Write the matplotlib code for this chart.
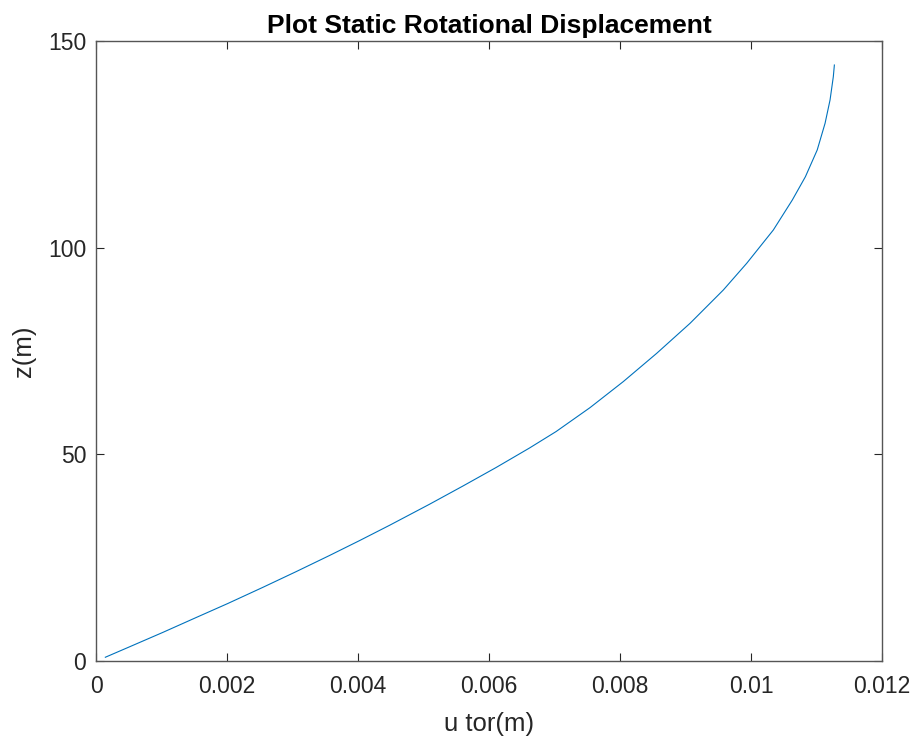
import matplotlib

matplotlib.use("Agg")
import matplotlib.pyplot as plt

# values
u_tor = [0.000142, 0.000508, 0.001018, 0.001527, 0.002011, 0.002545, 0.003053,
         0.003562, 0.00402, 0.004478, 0.005089, 0.005598, 0.006107, 0.006615,
         0.007023, 0.007542, 0.00805, 0.00856, 0.009069, 0.009577, 0.009934,
         0.01034, 0.01063, 0.01083, 0.01101, 0.01113, 0.011206, 0.011256,
         0.011272]
z = [0.9, 3.4, 6.9, 10.5, 13.9, 17.8, 21.6, 25.5, 29.1, 32.8,
     37.9, 42.3, 46.8, 51.5, 55.5, 61.3, 67.6, 74.44, 81.70, 89.76,
     96.22, 104.27, 111.53, 117.17, 123.63, 130.09, 135.73, 141.37, 144.19]

x_ticks = [0, 0.002, 0.004, 0.006, 0.008, 0.01, 0.012]
x_tick_labels = ["0", "0.002", "0.004", "0.006", "0.008", "0.01", "0.012"]
y_ticks = [0, 50, 100, 150]

plt.rcParams["font.family"] = ["Liberation Sans", "DejaVu Sans"]
text_color = "#262626"

fig = plt.figure(figsize=(9.19, 7.44), dpi=100)
ax = fig.add_axes([0.1045, 0.1116, 0.8553, 0.8333])
ax.plot(u_tor, z, color="#0072BD", linewidth=0.8)

ax.set_xlim(0, 0.012)
ax.set_ylim(0, 150)
ax.set_xticks(x_ticks)
ax.set_xticklabels(x_tick_labels)
ax.set_yticks(y_ticks)
ax.tick_params(direction="in", length=6, width=0.8, colors=text_color,
               labelsize=16.5, top=True, right=True)
ax.tick_params(axis="x", pad=10)
ax.tick_params(axis="y", pad=7)
for spine in ax.spines.values():
    spine.set_color("#555555")
    spine.set_linewidth(1.0)

ax.set_title("Plot Static Rotational Displacement", fontsize=19,
             fontweight="bold", color="black", pad=6)
ax.set_xlabel("u tor(m)", fontsize=18.5, color=text_color, labelpad=10)
ax.set_ylabel("z(m)", fontsize=18.5, color=text_color, labelpad=9)

fig.savefig("out.png", dpi=100)
